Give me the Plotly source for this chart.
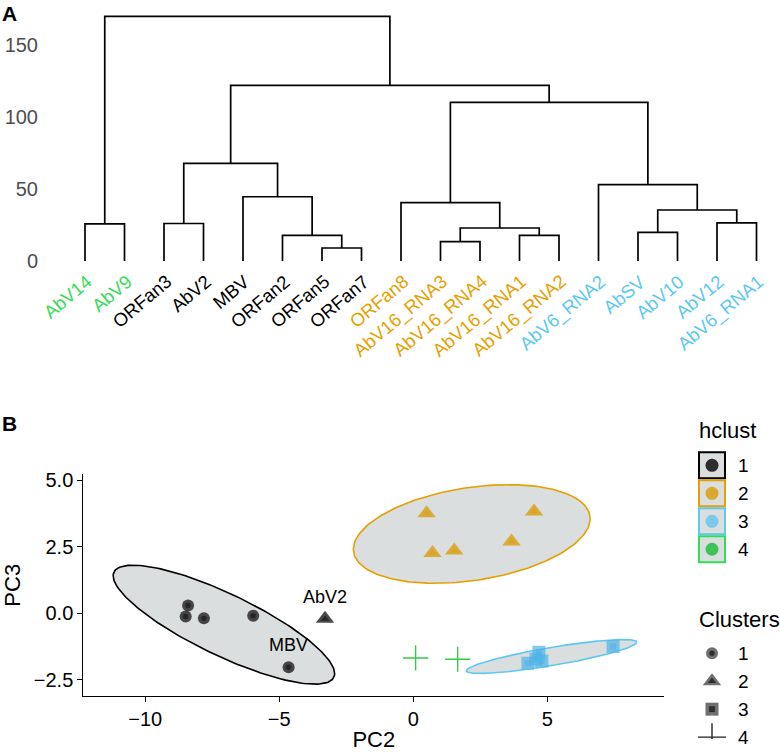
import numpy as np
import plotly.graph_objects as go

# ---- panel A: hierarchical clustering ----
leaves = ["AbV14", "AbV9", "ORFan3", "AbV2", "MBV", "ORFan2", "ORFan5", "ORFan7",
          "ORFan8", "AbV16_RNA3", "AbV16_RNA4", "AbV16_RNA1", "AbV16_RNA2",
          "AbV6_RNA2", "AbSV", "AbV10", "AbV12", "AbV6_RNA1"]
leaf_group = [4, 4, 1, 1, 1, 1, 1, 1, 2, 2, 2, 2, 2, 3, 3, 3, 3, 3]

# hclust-style merges: negative = leaf number, positive = earlier merge row
merge_left = [-7, -10, -12, -6, -15, 2, -1, -3, -17, 5, -9, -5, -14, 8, 11, 14, 7]
merge_right = [-8, -11, -13, 1, -16, 3, -2, -4, -18, 9, 6, 4, 10, 12, 13, 15, 16]
merge_height = [9.0, 13.4, 17.8, 17.8, 19.9, 22.9, 25.7, 26.0, 26.4, 35.4,
                40.5, 44.6, 53.0, 67.8, 110.2, 122.0, 170.0]

# ---- panel B: PCA ----
pc2 = [-8.40, -8.49, -7.81, -5.97, -4.65, -3.29,
       0.50, 4.51, 3.67, 0.72, 1.53,
       4.28, 4.69, 4.80, 4.58, 7.46,
       0.09, 1.66]
pc3 = [0.29, -0.12, -0.19, -0.09, -2.03, -0.21,
       3.76, 3.83, 2.70, 2.27, 2.36,
       -1.88, -1.47, -1.80, -1.73, -1.25,
       -1.68, -1.73]
hclust = [1, 1, 1, 1, 1, 1, 2, 2, 2, 2, 2, 3, 3, 3, 3, 3, 4, 4]
clusters = [1, 1, 1, 1, 1, 2, 2, 2, 2, 2, 2, 3, 3, 3, 3, 3, 4, 4]
point_names = ["ORFan3", "ORFan2", "ORFan5", "ORFan7", "MBV", "AbV2",
               "ORFan8", "AbV16_RNA3", "AbV16_RNA4", "AbV16_RNA1", "AbV16_RNA2",
               "AbV6_RNA2", "AbSV", "AbV10", "AbV12", "AbV6_RNA1",
               "AbV14", "AbV9"]
labelled = ["AbV2", "MBV"]

hcol = {1: "#000000", 2: "#E69F00", 3: "#5CC8F2", 4: "#33DD55"}
pcol = {1: "#2A2A2A", 2: "#D9A21B", 3: "#4FB3E8", 4: "#33CC44"}
symbols = {1: "circle", 2: "triangle-up", 3: "square", 4: "cross-thin"}
sizes = {1: 12, 2: 16, 3: 13, 4: 18}
FONT = "Liberation Sans, Arial, sans-serif"
W, H = 780, 752


def py(y):
    # vertical layout position (pixels from top), adjusted for how the page is captured
    return (y - 6.4) / 0.978


fig = go.Figure()

# dendrogram segments
xpos = {}
hpos = {}
order = {name: i + 1 for i, name in enumerate(leaves)}


def node_xy(ref):
    if ref < 0:
        return float(-ref), 0.0
    return xpos[ref], hpos[ref]


seg_x, seg_y = [], []
for k, (l, r, h) in enumerate(zip(merge_left, merge_right, merge_height), start=1):
    lx, lh = node_xy(l)
    rx, rh = node_xy(r)
    seg_x += [lx, lx, rx, rx, None]
    seg_y += [lh, h, h, rh, None]
    xpos[k] = (lx + rx) / 2
    hpos[k] = h

fig.add_trace(go.Scatter(x=seg_x, y=seg_y, mode="lines",
                         line=dict(color="black", width=1.7),
                         xaxis="x", yaxis="y", showlegend=False, hoverinfo="skip"))

annotations = []
for name, g in zip(leaves, leaf_group):
    annotations.append(dict(x=order[name], y=0, xref="x", yref="y", text=name,
                            textangle=-40, showarrow=False, xanchor="right", yanchor="top",
                            xshift=14, yshift=-7,
                            font=dict(family=FONT, size=18.5, color=hcol[g])))

# ellipses (95% normal) per hclust/cluster combination
pc2a, pc3a = np.array(pc2), np.array(pc3)
hca, cla = np.array(hclust), np.array(clusters)
t = np.linspace(0, 2 * np.pi, 200)
circle = np.vstack([np.cos(t), np.sin(t)])
for g in [1, 2, 3, 4]:
    m = (hca == g) & (cla == g)
    if m.sum() < 3:
        continue
    pts = np.vstack([pc2a[m], pc3a[m]])
    mu = pts.mean(axis=1, keepdims=True)
    cov = np.cov(pts)
    L = np.linalg.cholesky(cov)
    ell = mu + np.sqrt(5.991) * L @ circle
    fig.add_trace(go.Scatter(x=ell[0], y=ell[1], mode="lines", fill="toself",
                             fillcolor="#DADEDE", line=dict(color=hcol[g], width=1.6),
                             xaxis="x2", yaxis="y2", showlegend=False, hoverinfo="skip"))

# points: translucent outer mark plus darker core
for g in [1, 2, 3, 4]:
    for c in [1, 2, 3, 4]:
        idx = [i for i in range(len(pc2)) if hclust[i] == g and clusters[i] == c]
        if not idx:
            continue
        xs = [pc2[i] for i in idx]
        ys = [pc3[i] for i in idx]
        if c == 4:
            fig.add_trace(go.Scatter(x=xs, y=ys, mode="markers", xaxis="x2", yaxis="y2",
                                     marker=dict(symbol="cross-thin", size=sizes[c],
                                                 line=dict(color=pcol[g], width=1.4)),
                                     showlegend=False))
            continue
        fig.add_trace(go.Scatter(x=xs, y=ys, mode="markers", xaxis="x2", yaxis="y2",
                                 marker=dict(symbol=symbols[c], size=sizes[c], color=pcol[g],
                                             opacity=0.85 if c != 3 else 0.7, line=dict(width=0)),
                                 showlegend=False))
        core = "#111111" if g == 1 else pcol[g]
        fig.add_trace(go.Scatter(x=xs, y=ys, mode="markers", xaxis="x2", yaxis="y2",
                                 marker=dict(symbol=symbols[c], size=sizes[c] * 0.45, color=core,
                                             opacity=0.6, line=dict(width=0)),
                                 showlegend=False))

for i, n in enumerate(point_names):
    if n in labelled:
        annotations.append(dict(x=pc2[i], y=pc3[i], xref="x2", yref="y2", text=n,
                                showarrow=False, yshift=22,
                                font=dict(family=FONT, size=18, color="black")))

# hand-drawn legends on a pixel-space overlay axis
shapes = []
leg_y = [468, 496, 524, 552]
leg_fill = {1: "#1A1A1A", 2: "#D9A21B", 3: "#70C8F0", 4: "#2DBF4A"}
for g, yc in zip([1, 2, 3, 4], leg_y):
    shapes.append(dict(type="rect", xref="x3", yref="y3", x0=699, x1=725,
                       y0=py(yc - 13), y1=py(yc + 13),
                       line=dict(color=hcol[g], width=2), fillcolor="#DADEDE", layer="below"))
    annotations.append(dict(x=736, y=py(yc), xref="x3", yref="y3", text=str(g), showarrow=False,
                            xanchor="left", font=dict(family=FONT, size=19, color="black")))
fig.add_trace(go.Scatter(x=[712] * 4, y=[py(v) for v in leg_y], mode="markers",
                         xaxis="x3", yaxis="y3",
                         marker=dict(size=13, color=[leg_fill[g] for g in [1, 2, 3, 4]], opacity=0.9),
                         showlegend=False, hoverinfo="skip"))

cl_y = [656, 684, 712, 740]
for c, yc in zip([1, 2, 3, 4], cl_y):
    annotations.append(dict(x=736, y=py(yc), xref="x3", yref="y3", text=str(c), showarrow=False,
                            xanchor="left", font=dict(family=FONT, size=19, color="black")))
    if c == 4:
        fig.add_trace(go.Scatter(x=[712], y=[py(yc)], mode="markers", xaxis="x3", yaxis="y3",
                                 marker=dict(symbol="cross-thin", size=20,
                                             line=dict(color="#222222", width=1.4)),
                                 showlegend=False, hoverinfo="skip"))
    else:
        fig.add_trace(go.Scatter(x=[712, 712], y=[py(yc), py(yc)], mode="markers",
                                 xaxis="x3", yaxis="y3",
                                 marker=dict(symbol=symbols[c], size=[sizes[c], sizes[c] * 0.45],
                                             color=["#333333", "#111111"], line=dict(width=0)),
                                 showlegend=False, hoverinfo="skip"))

annotations.append(dict(x=697, y=py(433), xref="x3", yref="y3", text="hclust", showarrow=False,
                        xanchor="left", font=dict(family=FONT, size=22, color="black")))
annotations.append(dict(x=697, y=py(622), xref="x3", yref="y3", text="Clusters", showarrow=False,
                        xanchor="left", font=dict(family=FONT, size=22, color="black")))
annotations.append(dict(x=0, y=1, xref="paper", yref="paper", text="<b>A</b>", showarrow=False,
                        xanchor="left", yanchor="top", yshift=4,
                        font=dict(family=FONT, size=21, color="black")))
annotations.append(dict(x=0, y=1 - py(413) / H, xref="paper", yref="paper", text="<b>B</b>",
                        showarrow=False, xanchor="left", yanchor="top",
                        font=dict(family=FONT, size=21, color="black")))

fig.update_layout(
    width=W, height=H, margin=dict(l=0, r=0, t=0, b=0),
    paper_bgcolor="white", plot_bgcolor="rgba(0,0,0,0)",
    font=dict(family=FONT),
    showlegend=False,
    xaxis=dict(domain=[45 / W, 775 / W], range=[1 + (45 - 85) / 39.5, 1 + (775 - 85) / 39.5],
               visible=False, anchor="y"),
    yaxis=dict(domain=[1 - py(272.5) / H, 1 - py(10.5) / H], range=[-9 * 0.6944, 253 * 0.6944],
               tickvals=[0, 50, 100, 150], showgrid=False, zeroline=False, showline=False,
               ticks="", ticklabelstandoff=6, tickfont=dict(size=20, color="#4D4D4D"), anchor="x"),
    xaxis2=dict(domain=[83.3 / W, 664.3 / W], range=[-12.31, 9.37], anchor="y2",
                tickvals=[-10, -5, 0, 5], ticktext=["\u221210", "\u22125", "0", "5"],
                showline=True, linecolor="black", linewidth=1, ticks="outside", ticklen=5,
                tickcolor="black", showgrid=False, zeroline=False,
                tickfont=dict(size=20, color="black"),
                title=dict(text="PC2", font=dict(size=22, color="black"), standoff=6)),
    yaxis2=dict(domain=[1 - py(699.3) / H, 1 - py(476.7) / H], range=[-3.13, 5.24], anchor="x2",
                tickvals=[-2.5, 0, 2.5, 5], ticktext=["\u22122.5", "0.0", "2.5", "5.0"],
                showline=True, linecolor="black", linewidth=1, ticks="outside", ticklen=5,
                tickcolor="black", showgrid=False, zeroline=False,
                tickfont=dict(size=20, color="black"),
                title=dict(text="PC3", font=dict(size=22, color="black"), standoff=10)),
    xaxis3=dict(domain=[0, 1], range=[0, W], visible=False, anchor="y3", fixedrange=True),
    yaxis3=dict(domain=[0, 1], range=[H, 0], visible=False, anchor="x3", fixedrange=True),
    shapes=shapes,
    annotations=annotations,
)

# strip page margins so the figure fills the window exactly
page_fix = (
    "document.body.style.margin='0';document.body.style.padding='0';"
    "document.body.style.overflow='hidden';"
    "document.documentElement.style.overflow='hidden';"
)
fig.write_html("out.html", config={"displayModeBar": False}, post_script=page_fix)
